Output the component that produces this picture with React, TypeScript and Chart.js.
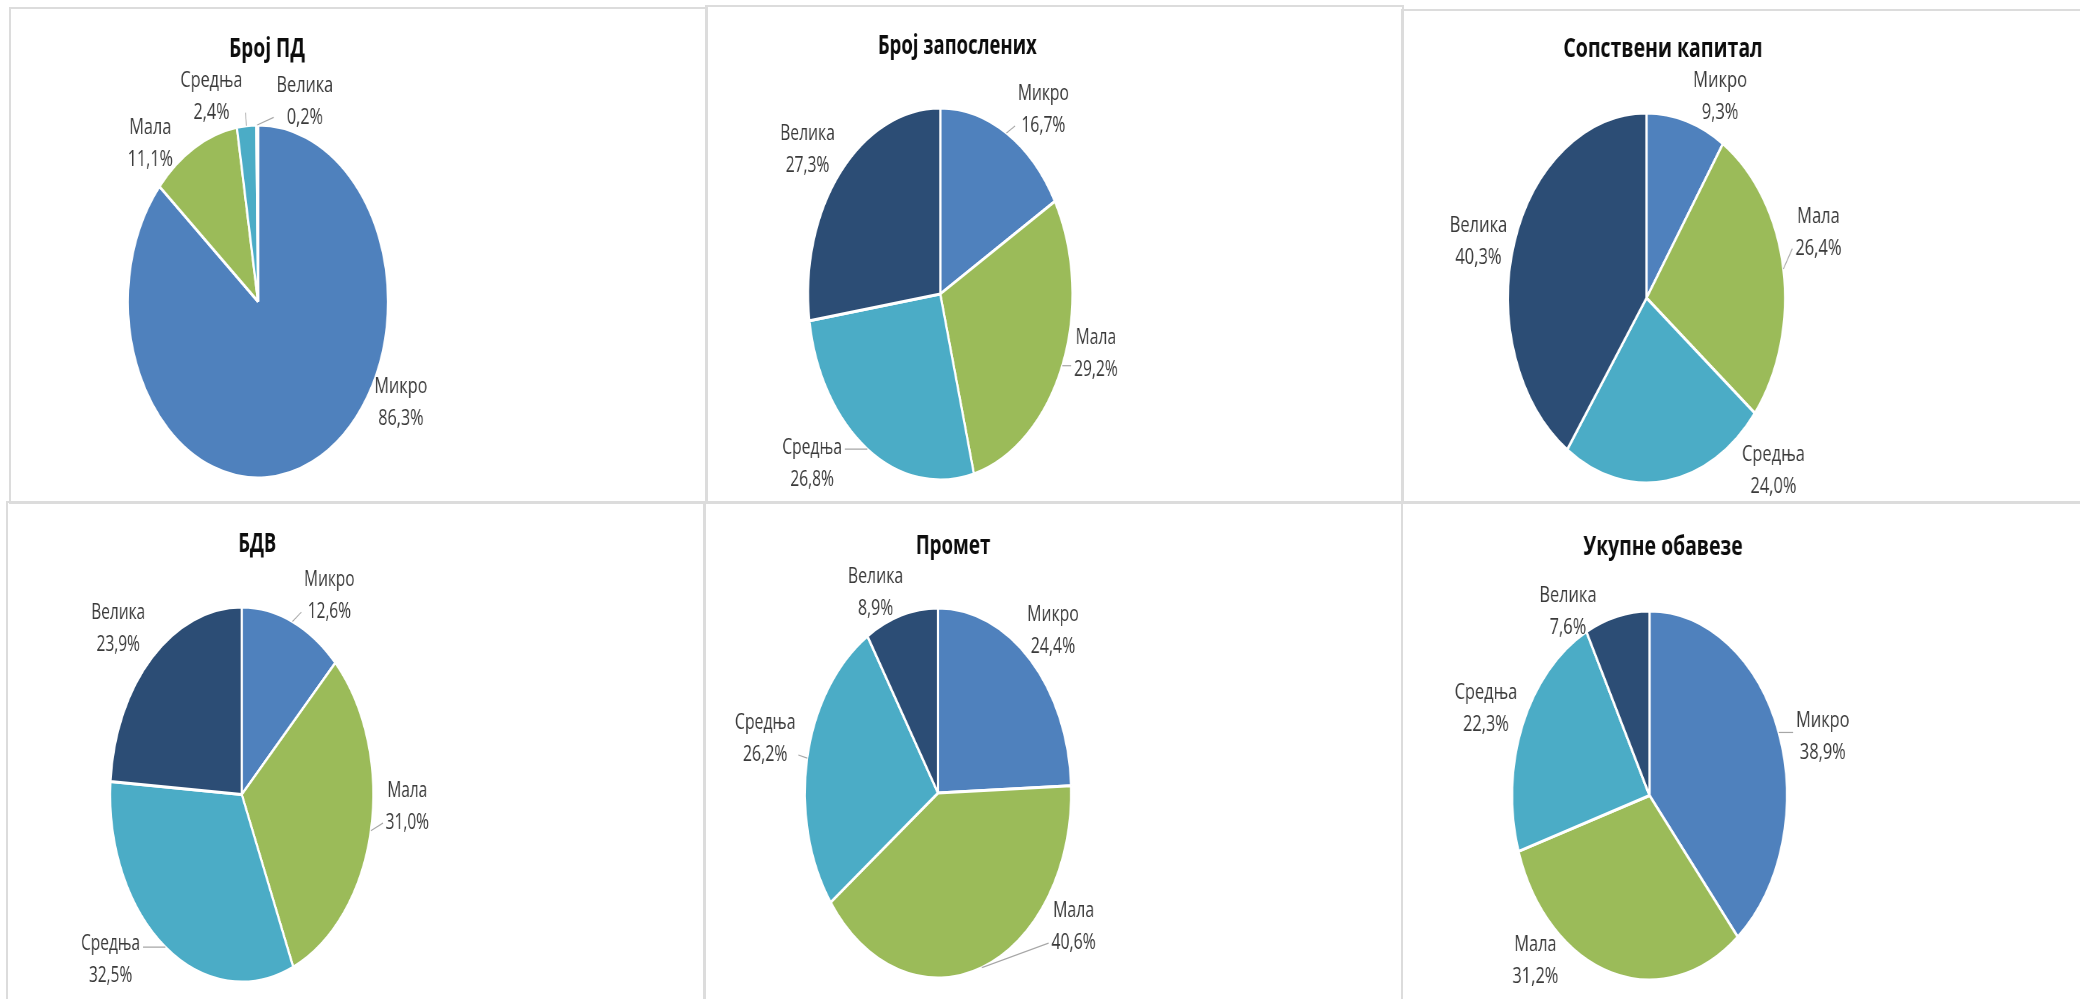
import React, { useEffect, useRef } from "react";
import { Chart, registerables } from "chart.js";

Chart.register(...registerables);

// ---- data ----
const CATEGORIES = ["Микро", "Мала", "Средња", "Велика"];
const TITLES = ["Број ПД", "Број запослених", "Сопствени капитал", "БДВ", "Промет", "Укупне обавезе"];
const BROJ_PD = [86.3, 11.1, 2.4, 0.2];
const BROJ_ZAPOSLENIH = [16.7, 29.2, 26.8, 27.3];
const SOPSTVENI_KAPITAL = [9.3, 26.4, 24.0, 40.3];
const BDV = [12.6, 31.0, 32.5, 23.9];
const PROMET = [24.4, 40.6, 26.2, 8.9];
const UKUPNE_OBAVEZE = [38.9, 31.2, 22.3, 7.6];
const SERIES = [BROJ_PD, BROJ_ZAPOSLENIH, SOPSTVENI_KAPITAL, BDV, PROMET, UKUPNE_OBAVEZE];

// ---- styles ----
const COLORS = ["#4F81BD", "#9BBB59", "#4BACC6", "#2C4D75"];
const GRID_COLOR = "#dcdcdc";
const LABEL_COLOR = "#3a3a3a";
const TITLE_COLOR = "#0d0d0d";
const LEADER_COLOR = "#a6a6a6";
const FONT = '"Open Sans", "Noto Sans", sans-serif';

// ---- layout (page pixels) ----
type Panel = { box: number[]; cx: number; cy: number; r: number; sx: number; tx: number; tb: number };
const PANELS: Panel[] = [
  { box: [9, 7, 699, 497], cx: 258, cy: 301.5, r: 176.5, sx: 0.737, tx: 267, tb: 57 },
  { box: [705, 5, 699, 499], cx: 940, cy: 294, r: 186, sx: 0.71, tx: 957, tb: 53.5 },
  { box: [1401, 9, 690, 495], cx: 1646.5, cy: 298, r: 185, sx: 0.749, tx: 1663, tb: 57 },
  { box: [6, 501, 700, 510], cx: 241.5, cy: 794.5, r: 187.5, sx: 0.701, tx: 257, tb: 551.5 },
  { box: [703, 501, 700, 510], cx: 938, cy: 793, r: 185, sx: 0.72, tx: 953, tb: 554 },
  { box: [1401, 501, 690, 510], cx: 1649.5, cy: 795.5, r: 184.5, sx: 0.745, tx: 1663, tb: 555 },
];
// label placement relative to each slice: angle shift (deg) from slice middle, distance as share of radius
const LABEL_SHIFT = [
  [-37.7, -13.4, -12.1, 18],
  [8.2, -7.5, 13.3, -3.1],
  [9.3, -6.9, -36.1, -3.5],
  [9.5, -8.1, 13.1, -3.7],
  [0.7, -35.3, 1.8, -7.4],
  [5.8, 26.7, -0.9, -17.1],
];
const LABEL_DIST = [
  [1.24, 1.22, 1.215, 1.19],
  [1.26, 1.22, 1.33, 1.27],
  [1.21, 1.29, 1.31, 1.25],
  [1.25, 1.26, 1.33, 1.29],
  [1.23, 1.25, 1.33, 1.18],
  [1.3, 1.22, 1.28, 1.16],
];
const LEADERS = [
  [0, 0, 1, 1],
  [1, 1, 1, 0],
  [0, 1, 0, 0],
  [1, 1, 1, 0],
  [0, 1, 1, 0],
  [1, 0, 0, 0],
];

const LABEL_SIZE = 22;
const LABEL_LINE = 32;
const TITLE_SIZE = 26;
const SLICE_BORDER = 3;

function fmt(v: number) {
  return v.toFixed(1).replace(".", ",") + "%";
}

function makeTextPlugin(idx: number) {
  return {
    id: "panelText" + idx,
    afterDatasetsDraw(chart: any) {
      const p = PANELS[idx];
      const [bx, by] = p.box;
      const ctx: CanvasRenderingContext2D = chart.ctx;
      ctx.save();
      // title
      ctx.font = `bold ${TITLE_SIZE}px ${FONT}`;
      ctx.fillStyle = TITLE_COLOR;
      ctx.textAlign = "center";
      ctx.textBaseline = "alphabetic";
      ctx.fillText(TITLES[idx], (p.tx - bx) / p.sx, p.tb - by);

      // data labels
      ctx.font = `${LABEL_SIZE}px ${FONT}`;
      ctx.textBaseline = "middle";
      const meta = chart.getDatasetMeta(0);
      const values = SERIES[idx];
      meta.data.forEach((arc: any, i: number) => {
        const { x, y, startAngle, endAngle, outerRadius } = arc.getProps(
          ["x", "y", "startAngle", "endAngle", "outerRadius"],
          true
        );
        const mid = (startAngle + endAngle) / 2;
        const a = mid + (LABEL_SHIFT[idx][i] * Math.PI) / 180;
        const d = outerRadius * LABEL_DIST[idx][i];
        const lx = x + Math.cos(a) * d;
        const ly = y + Math.sin(a) * d;
        const name = CATEGORIES[i];
        const pct = fmt(values[i]);
        const w = Math.max(ctx.measureText(name).width, ctx.measureText(pct).width);
        const y1 = ly - LABEL_LINE / 2;
        const y2 = ly + LABEL_LINE / 2;

        if (LEADERS[idx][i]) {
          const px = x + Math.cos(mid) * outerRadius;
          const py = y + Math.sin(mid) * outerRadius;
          const left = lx - w / 2;
          const right = lx + w / 2;
          let ax: number;
          let ay: number;
          if (px < left) {
            ax = left - 4;
            ay = Math.min(Math.max(py, y1), y2);
          } else if (px > right) {
            ax = right + 4;
            ay = Math.min(Math.max(py, y1), y2);
          } else {
            ax = px;
            ay = py < ly ? y1 - LABEL_SIZE * 0.6 : y2 + LABEL_SIZE * 0.6;
          }
          ctx.strokeStyle = LEADER_COLOR;
          ctx.lineWidth = 1.2;
          ctx.beginPath();
          ctx.moveTo(px, py);
          ctx.lineTo(ax, ay);
          ctx.stroke();
        }

        ctx.fillStyle = LABEL_COLOR;
        ctx.textAlign = "center";
        ctx.fillText(name, lx, y1);
        ctx.fillText(pct, lx, y2);
      });
      ctx.restore();
    },
  };
}

function PieChart({ idx }: { idx: number }) {
  const ref = useRef<HTMLCanvasElement>(null);
  const p = PANELS[idx];
  const [bx, by, bw, bh] = p.box;
  const W = bw / p.sx;

  useEffect(() => {
    if (!ref.current) return;
    const side = 2 * p.r + SLICE_BORDER;
    const left = (p.cx - bx) / p.sx - side / 2;
    const top = p.cy - by - side / 2;
    const chart = new Chart(ref.current, {
      type: "pie",
      data: {
        labels: CATEGORIES,
        datasets: [
          {
            data: SERIES[idx],
            backgroundColor: COLORS,
            borderColor: "#ffffff",
            borderWidth: SLICE_BORDER,
          },
        ],
      },
      options: {
        animation: false,
        responsive: true,
        maintainAspectRatio: false,
        events: [],
        layout: {
          padding: { left, top, right: W - left - side, bottom: bh - top - side },
        },
        plugins: {
          legend: { display: false },
          tooltip: { enabled: false },
          title: { display: false },
        },
      },
      plugins: [makeTextPlugin(idx)],
    } as any);
    return () => chart.destroy();
  }, [idx]);

  return (
    <div style={{ position: "absolute", left: bx, top: by, width: bw, height: bh }}>
      <div
        style={{
          position: "absolute",
          left: 0,
          top: 0,
          width: W,
          height: bh,
          transform: `scaleX(${p.sx})`,
          transformOrigin: "0 0",
        }}
      >
        <canvas ref={ref} />
      </div>
    </div>
  );
}

export default function App() {
  return (
    <div
      style={{
        position: "absolute",
        left: 0,
        top: 0,
        width: 2080,
        height: 999,
        overflow: "hidden",
        background: "#ffffff",
      }}
    >
      {PANELS.map((p, i) => (
        <div
          key={"b" + i}
          style={{
            position: "absolute",
            left: p.box[0],
            top: p.box[1],
            width: p.box[2],
            height: p.box[3],
            boxSizing: "border-box",
            border: `2px solid ${GRID_COLOR}`,
          }}
        />
      ))}
      {PANELS.map((_, i) => (
        <PieChart key={i} idx={i} />
      ))}
    </div>
  );
}
